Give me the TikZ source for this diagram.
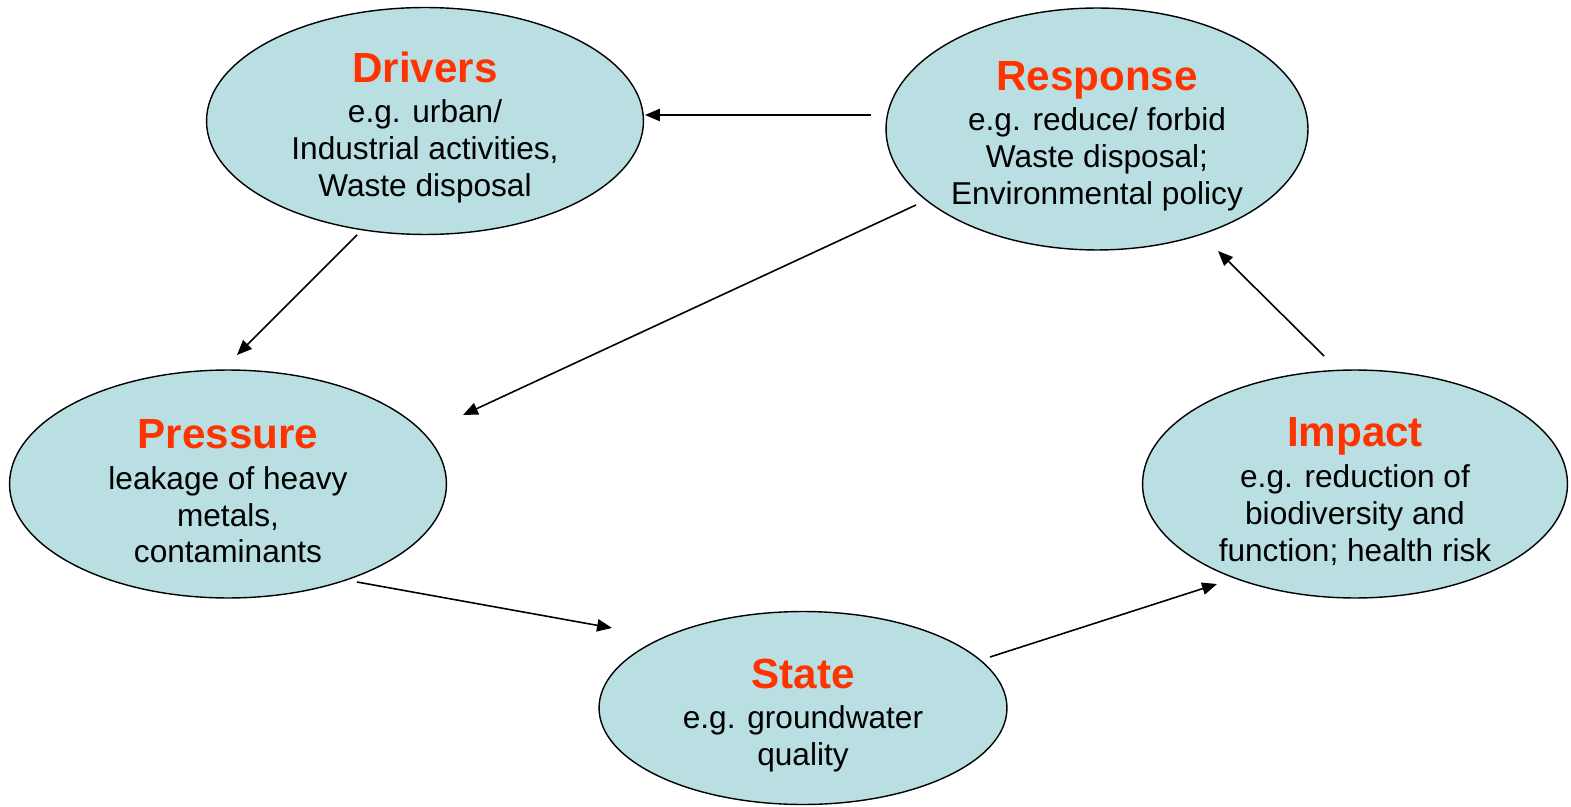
\documentclass[tikz,border=0pt]{standalone}
\usepackage{fontspec}
\setmainfont{Liberation Sans}
\usetikzlibrary{shapes.geometric,arrows.meta}
\definecolor{ellfill}{HTML}{B9DFE3}
\definecolor{titlecol}{HTML}{FF3300}
\tikzset{
  dpsir/.style={ellipse, draw=black, line width=0.8pt, fill=ellfill, inner sep=0pt},
  dtext/.style={inner sep=0pt, align=center, font=\fontsize{18}{21}\selectfont},
  conn/.style={line width=0.9pt, -{Triangle[length=8.5pt,width=7pt]}},
}
\newcommand{\ttl}[1]{\rule{0pt}{25pt}{\fontsize{24}{28}\selectfont\bfseries\color{titlecol}#1}\\[2pt]}
\begin{document}
\begin{tikzpicture}[x=0.02cm,y=-0.02cm]
\useasboundingbox (0,0) rectangle (1571,807);
\node[dpsir, minimum width=8.74cm, minimum height=4.54cm] (drivers) at (425,121) {};
\node[dtext] (driverstext) at (drivers.center)
  {\ttl{Drivers}e.g. urban/\\Industrial activities,\\Waste disposal};
\node[dpsir, minimum width=8.44cm, minimum height=4.84cm] (response) at (1097,129) {};
\node[dtext] (responsetext) at (response.center)
  {\ttl{Response}e.g. reduce/ forbid\\Waste disposal;\\Environmental policy};
\node[dpsir, minimum width=8.74cm, minimum height=4.56cm] (pressure) at (228,484) {};
\node[dtext] (pressuretext) at (pressure.center)
  {\ttl{Pressure}leakage of heavy\\metals,\\contaminants};
\node[dpsir, minimum width=8.5cm, minimum height=4.56cm] (impact) at (1355,484) {};
\node[dtext] (impacttext) at (impact.center)
  {\ttl{Impact}e.g. reduction of\\ biodiversity and\\function; health risk};
\node[dpsir, minimum width=8.16cm, minimum height=3.86cm] (state) at (803,708) {};
\node[dtext] (statetext) at (state.center)
  {\ttl{State}e.g. groundwater\\quality};
% free ends of connectors
\coordinate (r1) at (871,115);
\coordinate (d1) at (645,115);
\coordinate (d2) at (357,235);
\coordinate (p1) at (237,355);
\coordinate (r2) at (916,205);
\coordinate (p2) at (463,415);
\coordinate (p3) at (357,582);
\coordinate (s1) at (612,628);
\coordinate (s2) at (990,657);
\coordinate (i1) at (1217,584);
\coordinate (i2) at (1324,356);
\coordinate (r3) at (1218,251);
\draw[conn] (r1) -- (d1);
\draw[conn] (d2) -- (p1);
\draw[conn] (r2) -- (p2);
\draw[conn] (p3) -- (s1);
\draw[conn] (s2) -- (i1);
\draw[conn] (i2) -- (r3);
\end{tikzpicture}
\end{document}
